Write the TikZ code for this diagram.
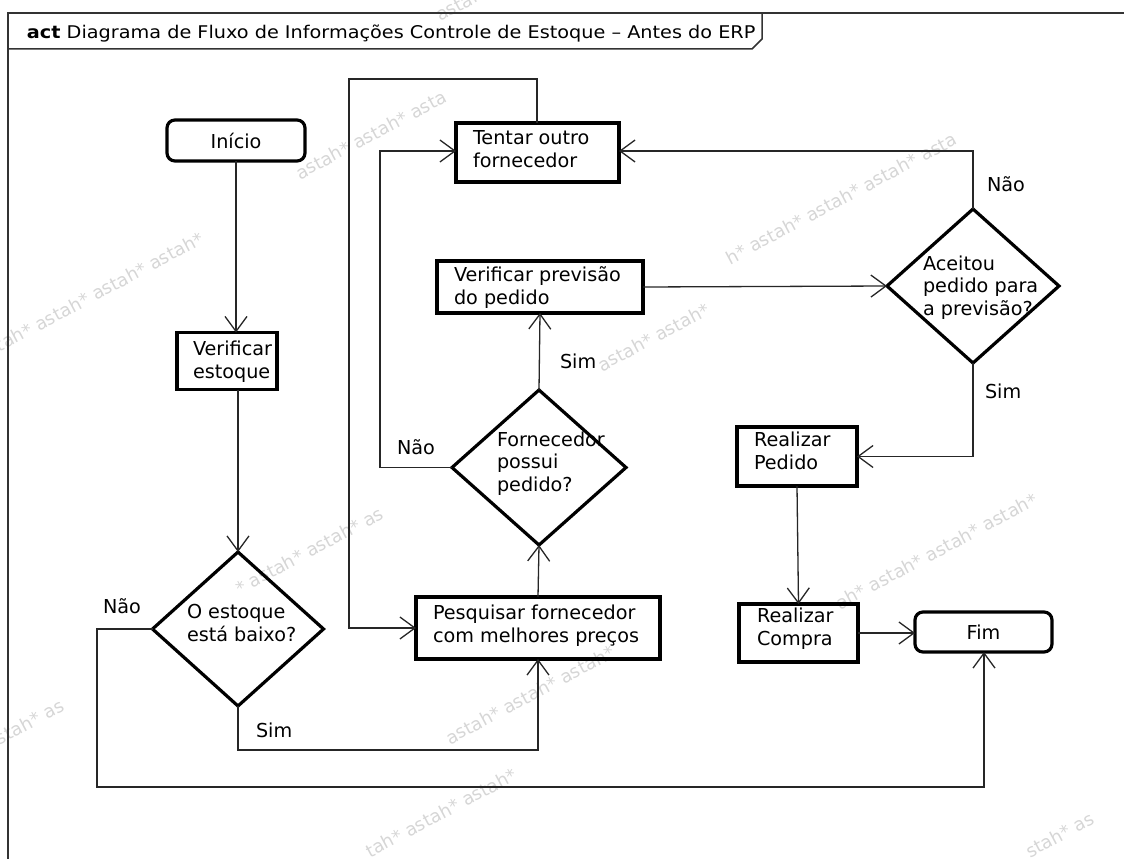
\documentclass[tikz,border=0pt]{standalone}
\usepackage{fontspec}
\setmainfont{DejaVu Sans}
\usetikzlibrary{shapes.geometric,arrows.meta,calc}

\newcommand\flowfont{\fontsize{19.2}{22.5}\selectfont}
\newcommand\titlefont{\fontsize{17.5}{20}\selectfont}
\newcommand\markfont{\fontsize{18}{20}\selectfont}

\begin{document}
\begin{tikzpicture}[x=1pt,y=-1pt,
  every node/.style={inner sep=0pt, outer sep=0pt},
  actbox/.style={draw=black, line width=3.2pt, rectangle},
  endbox/.style={draw=black, line width=3.2pt, rectangle, rounded corners=8pt, font=\flowfont},
  decision/.style={draw=black, line width=3.2pt, diamond, shape aspect=1},
  txt/.style={font=\flowfont, align=left, anchor=base west},
  guard/.style={font=\flowfont, anchor=base west},
  flow/.style={draw=black!85, line width=1.3pt,
    -{Straight Barb[length=15pt, width=22pt, line width=1.3pt]}},
  frameline/.style={draw=black!80, line width=1.5pt},
  wmark/.style={font=\markfont, text=black!16, anchor=base west, rotate=28}
]
\useasboundingbox (0,0) rectangle (1124,859);

% tool watermark strips behind the drawing
\begin{scope}
\clip (0,0) rectangle (1124,859);
\node[wmark] (w1) at (0,352) {tah* astah* astah* astah*};
\node[wmark] (w2) at (300,180) {astah* astah* asta};
\node[wmark] (w3) at (440,22) {astah* asta};
\node[wmark] (w4) at (730,265) {h* astah* astah* astah* asta};
\node[wmark] (w5) at (602,372) {astah* astah*};
\node[wmark] (w6) at (240,595) {* astah* astah* as};
\node[wmark] (w7) at (0,745) {stah* as};
\node[wmark] (w8) at (450,745) {astah* astah* astah*};
\node[wmark] (w9) at (370,858) {tah* astah* astah*};
\node[wmark] (w10) at (840,610) {ah* astah* astah* astah*};
\node[wmark] (w11) at (1030,858) {stah* as};
\end{scope}

% diagram frame with its title tab
\begin{scope}
\clip (0,0) rectangle (1124,859);
\draw[frameline] (8,880) -- (8,13) -- (1140,13);
\draw[frameline] (8,49) -- (752,49) -- (762,39) -- (762,13);
\end{scope}
\node[font=\titlefont, anchor=base west] (title) at (27,39)
  {\scalebox{1.1}[1]{\textbf{act} Diagrama de Fluxo de Informações Controle de Estoque – Antes do ERP}};

% start and end
\node[endbox, minimum width=138pt, minimum height=41pt] (inicio) at (236,140.5) {Início};
\node[endbox, minimum width=137pt, minimum height=40pt] (fim) at (983.5,632) {Fim};

% actions (text nodes are anchored on the baseline of their last line)
\node[actbox, minimum width=100pt, minimum height=57pt] (vest) at (227,361) {};
\node[txt] (tvest) at (193,378) {Verificar\\estoque};

\node[actbox, minimum width=244pt, minimum height=62pt] (pesq) at (538,628) {};
\node[txt] (tpesq) at (433,642) {Pesquisar fornecedor\\com melhores preços};

\node[actbox, minimum width=163pt, minimum height=59pt] (tent) at (537.5,152.5) {};
\node[txt] (ttent) at (473,167) {Tentar outro\\fornecedor};

\node[actbox, minimum width=206pt, minimum height=52pt] (vprev) at (540,287) {};
\node[txt] (tvprev) at (454,304) {Verificar previsão\\do pedido};

\node[actbox, minimum width=120pt, minimum height=59pt] (rped) at (797,456.5) {};
\node[txt] (trped) at (754,469) {Realizar\\Pedido};

\node[actbox, minimum width=119pt, minimum height=58pt] (rcomp) at (798.5,633) {};
\node[txt] (trcomp) at (757,645) {Realizar\\Compra};

% decisions
\node[decision, minimum width=171pt, minimum height=154pt] (dest) at (238,629) {};
\node[txt] (tdest) at (187,641) {O estoque\\está baixo?};

\node[decision, minimum width=174pt, minimum height=155pt] (dforn) at (539,467.5) {};
\node[txt] (tdforn) at (497,491) {Fornecedor\\possui\\pedido?};

\node[decision, minimum width=172pt, minimum height=154pt] (dacei) at (973,286) {};
\node[txt] (tdacei) at (923,315) {Aceitou\\pedido para\\a previsão?};

% bend points of the connectors
\coordinate (simA) at (238,750);
\coordinate (simB) at (538,750);
\coordinate (naoA) at (97,629);
\coordinate (naoB) at (97,787);
\coordinate (naoC) at (984,787);
\coordinate (fornA) at (380,467.5);
\coordinate (fornB) at (380,151);
\coordinate (loopA) at (537,79);
\coordinate (loopB) at (349,79);
\coordinate (loopC) at (349,628);
\coordinate (aceA) at (973,151);
\coordinate (aceB) at (973,456.5);

% connectors
\draw[flow] (inicio.south) -- (inicio.south |- vest.north);
\draw[flow] (dest.north |- vest.south) -- (dest.north);
\draw[flow] (dest.south) -- (simA) -- (simB) -- (pesq.south);
\draw[flow] (dest.west) -- (naoA) -- (naoB) -- (naoC) -- (naoC |- fim.south);
\draw[flow] (pesq.north) -- (dforn.south);
\draw[flow] (dforn.north) -- (vprev.south);
\draw[flow] (dforn.west) -- (fornA) -- (fornB) -- (fornB -| tent.west);
\draw[flow] (loopA |- tent.north) -- (loopA) -- (loopB) -- (loopC) -- (loopC -| pesq.west);
\draw[flow] (vprev.east) -- (dacei.west);
\draw[flow] (dacei.north) -- (aceA) -- (aceA -| tent.east);
\draw[flow] (dacei.south) -- (aceB) -- (rped.east);
\draw[flow] (rped.south) -- (rcomp.north);
\draw[flow] (rcomp.east) -- (rcomp.east -| fim.west);

% guard labels
\node[guard] (gnao1) at (103,613) {Não};
\node[guard] (gsim1) at (256,737) {Sim};
\node[guard] (gsim2) at (560,368) {Sim};
\node[guard] (gnao2) at (397,454) {Não};
\node[guard] (gnao3) at (987,191) {Não};
\node[guard] (gsim3) at (985,398) {Sim};
\end{tikzpicture}
\end{document}
